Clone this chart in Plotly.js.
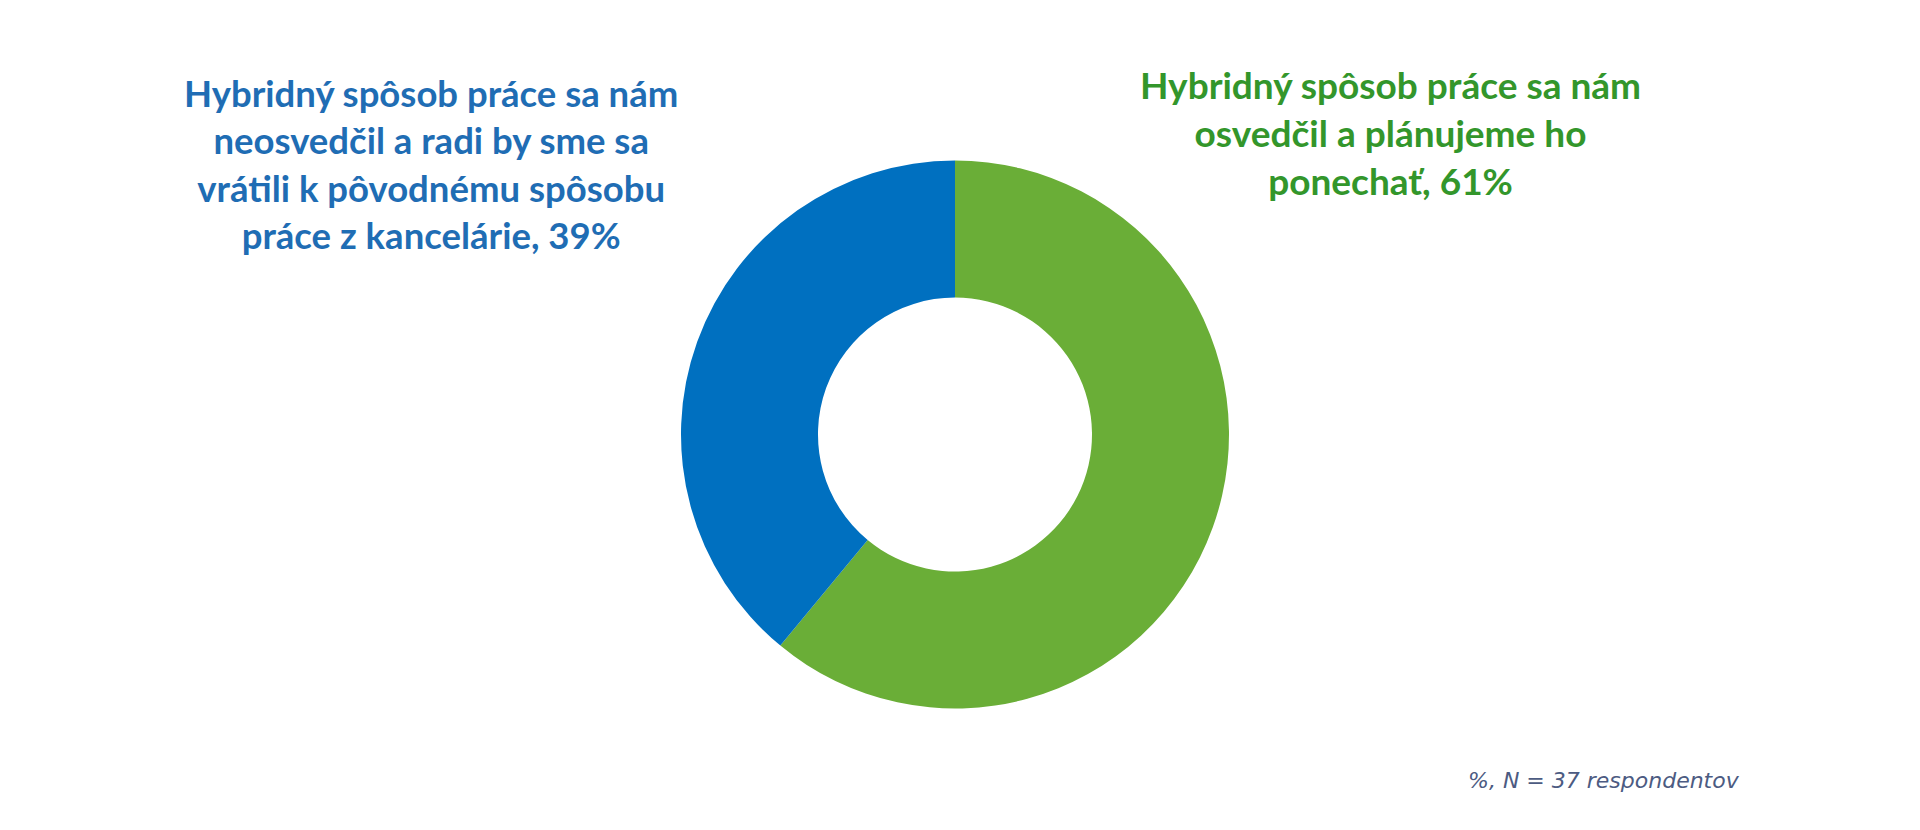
<!DOCTYPE html>
<html>
<head>
<meta charset="utf-8">
<script src="https://cdn.plot.ly/plotly-3.0.1.min.js"></script>
<style>
  html, body { margin: 0; padding: 0; background: #ffffff; }
  #chart { width: 1920px; height: 830px; }
</style>
</head>
<body>
<div id="chart"></div>
<script>
// Survey answers on hybrid work (share of respondents, %)
const categories = [
  "Hybridný spôsob práce sa nám osvedčil a plánujeme ho ponechať",
  "Hybridný spôsob práce sa nám neosvedčil a radi by sme sa vrátili k pôvodnému spôsobu práce z kancelárie"
];
const values = [61, 39];
const sliceColors = ["#6AAE37", "#0070C0"];
const labelTexts = [
  "Hybridný spôsob práce sa nám<br>osvedčil a plánujeme ho<br>ponechať, 61%",
  "Hybridný spôsob práce sa nám<br>neosvedčil a radi by sme sa<br>vrátili k pôvodnému spôsobu<br>práce z kancelárie, 39%"
];
const labelColors = ["#33962B", "#1F6DB4"];
const footnote = "%, N = 37 respondentov";

const W = 1920, H = 830;
const px = x => x / W;
const py = y => 1 - y / H;

// Slices run clockwise from 12 o'clock
const trace = {
  type: "pie",
  labels: categories,
  values: values,
  hole: 0.5,
  sort: false,
  direction: "clockwise",
  rotation: 0,
  marker: { colors: sliceColors, line: { width: 0 } },
  textinfo: "none",
  hoverinfo: "label+percent",
  domain: { x: [px(681), px(1229)], y: [py(709), py(160)] }
};

const layout = {
  width: W,
  height: H,
  margin: { l: 0, r: 0, t: 0, b: 0 },
  paper_bgcolor: "#ffffff",
  showlegend: false,
  font: { family: "Lato, 'Open Sans', sans-serif" },
  annotations: [
    {
      xref: "paper", yref: "paper",
      x: px(1390), y: py(133),
      xanchor: "center", yanchor: "middle",
      text: labelTexts[0],
      showarrow: false,
      align: "center",
      font: { family: "Lato", size: 37, color: labelColors[0], weight: 700 }
    },
    {
      xref: "paper", yref: "paper",
      x: px(431), y: py(164),
      xanchor: "center", yanchor: "middle",
      text: labelTexts[1],
      showarrow: false,
      align: "center",
      font: { family: "Lato", size: 36.5, color: labelColors[1], weight: 700 }
    },
    {
      xref: "paper", yref: "paper",
      x: px(1604), y: py(780),
      xanchor: "center", yanchor: "middle",
      text: footnote,
      showarrow: false,
      font: { family: "DejaVu Sans, sans-serif", size: 22, color: "#4C5B82", style: "italic" }
    }
  ]
};

Plotly.newPlot("chart", [trace], layout, { displayModeBar: false, staticPlot: true });
</script>
</body>
</html>
